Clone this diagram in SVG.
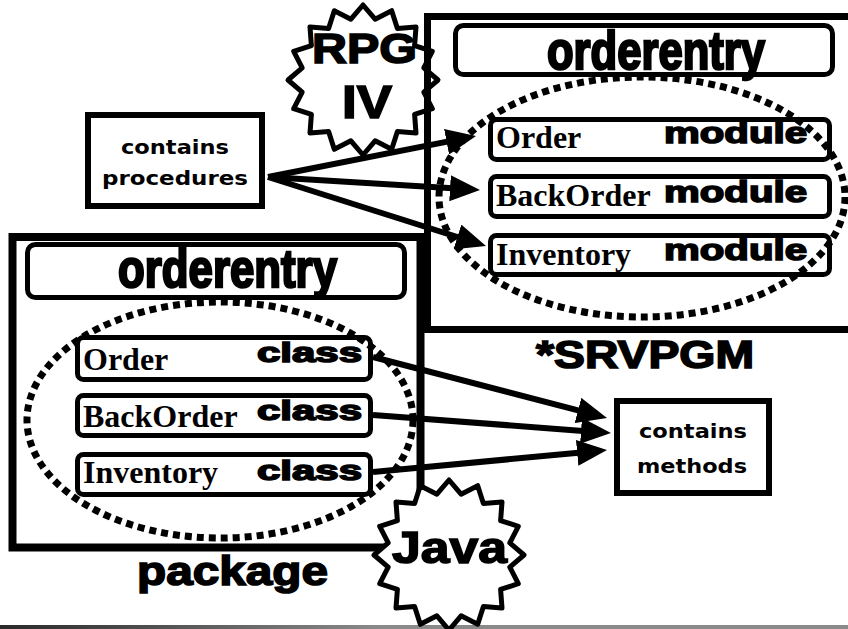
<svg xmlns="http://www.w3.org/2000/svg" width="848" height="629" viewBox="0 0 848 629">
<style>
.frame{fill:none;stroke:#000}
.box{fill:#fff;stroke:#000;stroke-width:5}
.item{fill:none;stroke:#000;stroke-width:5}
.note{fill:#fff;stroke:#000;stroke-width:6}
.dots{fill:none;stroke:#000;stroke-width:7;stroke-dasharray:7 5}
.star{fill:#fff;stroke:#000;stroke-width:5;stroke-linejoin:round}
.title{font-family:"Liberation Sans Narrow","Liberation Sans",Arial,sans-serif;font-weight:bold;font-size:53px;stroke:#000;stroke-width:2.5}
.serif{font-family:"Liberation Serif","Times New Roman",serif;font-weight:bold;font-size:32px}
.heavy{font-family:"Liberation Sans",Arial,sans-serif;font-weight:bold;stroke:#000;stroke-width:1.6}
.comic{font-family:"DejaVu Sans","Liberation Sans",sans-serif;font-weight:bold;font-size:20px}
.conn line{stroke:#000;stroke-width:6;marker-end:url(#ah)}
</style>
<defs>
<marker id="ah" markerUnits="userSpaceOnUse" markerWidth="30" markerHeight="26" refX="15" refY="13" orient="auto">
<path d="M0,0 L30,13 L0,26 z" fill="#000"/>
</marker>
<polygon id="starshape" points="0,-75 12.1,-60.8 28.7,-69.3 34.4,-51.6 53,-53 51.6,-34.4 69.3,-28.7 60.8,-12.1 75,0 60.8,12.1 69.3,28.7 51.6,34.4 53,53 34.4,51.6 28.7,69.3 12.1,60.8 0,75 -12.1,60.8 -28.7,69.3 -34.4,51.6 -53,53 -51.6,34.4 -69.3,28.7 -60.8,12.1 -75,0 -60.8,-12.1 -69.3,-28.7 -51.6,-34.4 -53,-53 -34.4,-51.6 -28.7,-69.3 -12.1,-60.8"/>
<linearGradient id="barg" x1="0" y1="0" x2="848" y2="0" gradientUnits="userSpaceOnUse">
<stop offset="0" stop-color="#2a2a2a"/>
<stop offset="0.45" stop-color="#8a8a8a"/>
<stop offset="1" stop-color="#8a8a8a"/>
</linearGradient>
</defs>
<rect x="0" y="625" width="848" height="4" fill="url(#barg)"/>

<g id="rpg-star">
<use href="#starshape" class="star" transform="translate(363,80)"/>
<text class="heavy" x="312" y="63" font-size="43" textLength="105" lengthAdjust="spacingAndGlyphs">RPG</text>
<text class="heavy" x="342" y="118" font-size="46" textLength="50" lengthAdjust="spacingAndGlyphs">IV</text>
</g>

<g id="srvpgm">
<rect class="frame" x="427.5" y="16.5" width="430" height="313" stroke-width="7"/>
<text class="heavy" x="536" y="368" font-size="39" textLength="218" lengthAdjust="spacingAndGlyphs">*SRVPGM</text>
</g>
<g id="srvpgm-title">
<rect class="box" x="455.5" y="25.5" width="377" height="49" rx="8"/>
<text class="title" x="547" y="69" textLength="218" lengthAdjust="spacingAndGlyphs">orderentry</text>
</g>
<g id="mod-order">
<rect class="item" x="490.5" y="119.5" width="339" height="40" rx="6"/>
<text class="serif" x="496" y="148">Order</text>
<text class="heavy" x="664" y="143" font-size="30" textLength="143" lengthAdjust="spacingAndGlyphs">module</text>
</g>
<g id="mod-backorder">
<rect class="item" x="490.5" y="176.5" width="339" height="40" rx="6"/>
<text class="serif" x="496" y="206">BackOrder</text>
<text class="heavy" x="664" y="202" font-size="30" textLength="143" lengthAdjust="spacingAndGlyphs">module</text>
</g>
<g id="mod-inventory">
<rect class="item" x="490.5" y="235.5" width="339" height="39" rx="6"/>
<text class="serif" x="496" y="265">Inventory</text>
<text class="heavy" x="664" y="260" font-size="30" textLength="143" lengthAdjust="spacingAndGlyphs">module</text>
</g>
<ellipse id="modules-group" class="dots" cx="642" cy="197" rx="203" ry="120"/>

<g id="package">
<rect class="frame" x="12.5" y="237" width="408" height="310.5" stroke-width="8"/>
<text class="heavy" x="137" y="585" font-size="40" textLength="191" lengthAdjust="spacingAndGlyphs">package</text>
</g>
<g id="package-title">
<rect class="box" x="27.5" y="244.5" width="377" height="53" rx="8"/>
<text class="title" x="118" y="287" textLength="219" lengthAdjust="spacingAndGlyphs">orderentry</text>
</g>
<g id="cls-order">
<rect class="item" x="77.5" y="337.5" width="293" height="42" rx="6"/>
<text class="serif" x="83" y="370">Order</text>
<text class="heavy" x="257" y="362" font-size="28" textLength="105" lengthAdjust="spacingAndGlyphs">class</text>
</g>
<g id="cls-backorder">
<rect class="item" x="77.5" y="395.5" width="293" height="40" rx="6"/>
<text class="serif" x="83" y="427">BackOrder</text>
<text class="heavy" x="257" y="420" font-size="28" textLength="105" lengthAdjust="spacingAndGlyphs">class</text>
</g>
<g id="cls-inventory">
<rect class="item" x="77.5" y="454.5" width="293" height="40" rx="6"/>
<text class="serif" x="83" y="483">Inventory</text>
<text class="heavy" x="257" y="480" font-size="28" textLength="105" lengthAdjust="spacingAndGlyphs">class</text>
</g>
<ellipse id="classes-group" class="dots" cx="220" cy="420" rx="193" ry="118"/>

<g id="java-star">
<use href="#starshape" class="star" transform="translate(449,555)"/>
<text class="heavy" x="392" y="563" font-size="45" textLength="115" lengthAdjust="spacingAndGlyphs">Java</text>
</g>

<g id="procedures">
<rect class="note" x="88" y="115" width="174" height="91"/>
<text class="comic" x="175" y="154" text-anchor="middle" textLength="108" lengthAdjust="spacingAndGlyphs">contains</text>
<text class="comic" x="175" y="185" text-anchor="middle" textLength="146" lengthAdjust="spacingAndGlyphs">procedures</text>
</g>
<g id="methods">
<rect class="note" x="617" y="401" width="152" height="92"/>
<text class="comic" x="693" y="438" text-anchor="middle" textLength="108" lengthAdjust="spacingAndGlyphs">contains</text>
<text class="comic" x="692" y="473" text-anchor="middle" textLength="110" lengthAdjust="spacingAndGlyphs">methods</text>
</g>

<g id="connectors" class="conn">
<line x1="268" y1="177" x2="461.3" y2="138.9"/>
<line x1="268" y1="177" x2="465" y2="189.1"/>
<line x1="268" y1="177" x2="471.7" y2="241.5"/>
<line x1="373" y1="357" x2="592.5" y2="414.2"/>
<line x1="373" y1="415" x2="596" y2="431.9"/>
<line x1="373" y1="472" x2="592.1" y2="451.4"/>
</g>
</svg>
